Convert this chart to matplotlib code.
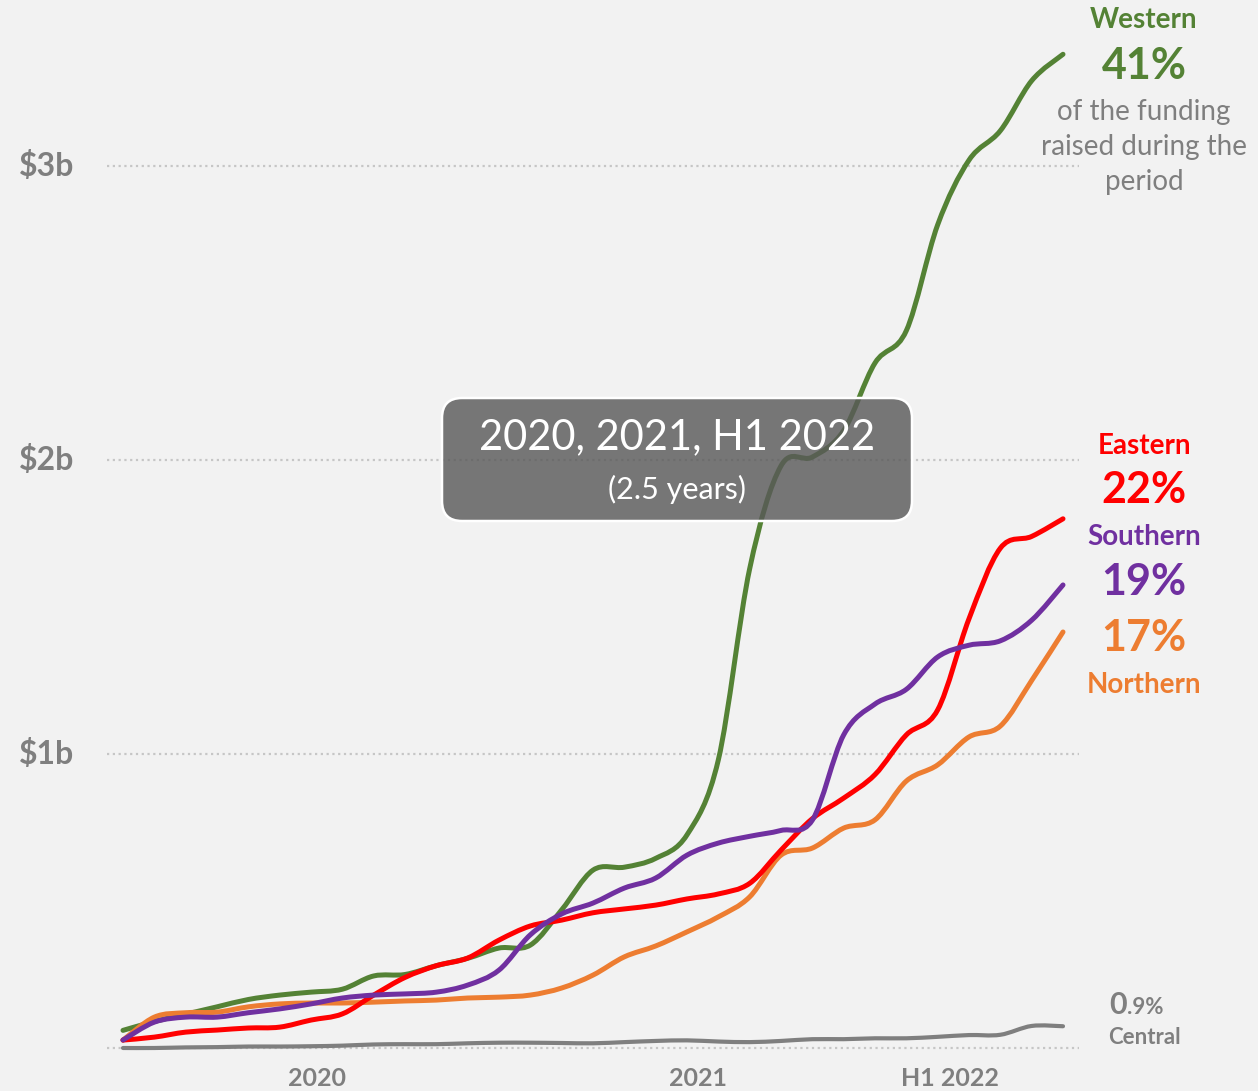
import numpy as np
import matplotlib
matplotlib.use("Agg")
import matplotlib.pyplot as plt
from matplotlib.path import Path
from matplotlib.patches import PathPatch, FancyBboxPatch
import matplotlib.transforms as mtransforms

# ---------------- data (cumulative funding, $ billions, monthly) ----------------
month_index = list(range(31))  # start of Jan 2020 .. end of Jun 2022

western = [0.06, 0.09, 0.115, 0.14, 0.165, 0.18, 0.19, 0.20, 0.245, 0.25, 0.28,
           0.305, 0.34, 0.35, 0.47, 0.605, 0.615, 0.645, 0.725, 0.98, 1.63,
           1.98, 2.01, 2.10, 2.33, 2.44, 2.80, 3.02, 3.12, 3.29, 3.38]
eastern = [0.027, 0.037, 0.054, 0.061, 0.068, 0.071, 0.095, 0.116, 0.18, 0.24,
           0.28, 0.306, 0.367, 0.415, 0.435, 0.46, 0.473, 0.486, 0.507, 0.524,
           0.56, 0.673, 0.78, 0.85, 0.93, 1.065, 1.15, 1.46, 1.70, 1.74, 1.80]
southern = [0.027, 0.088, 0.105, 0.105, 0.12, 0.133, 0.15, 0.17, 0.18, 0.184,
            0.19, 0.214, 0.265, 0.385, 0.456, 0.493, 0.544, 0.578, 0.656, 0.697,
            0.72, 0.74, 0.775, 1.065, 1.17, 1.22, 1.33, 1.37, 1.385, 1.455, 1.575]
northern = [0.027, 0.105, 0.12, 0.122, 0.14, 0.15, 0.153, 0.153, 0.156, 0.16,
            0.163, 0.17, 0.173, 0.18, 0.204, 0.248, 0.31, 0.347, 0.395, 0.446,
            0.514, 0.656, 0.68, 0.748, 0.776, 0.908, 0.963, 1.058, 1.095, 1.25, 1.415]
central = [0.0, 0.0, 0.002, 0.003, 0.005, 0.005, 0.006, 0.008, 0.012, 0.013,
           0.013, 0.016, 0.018, 0.018, 0.017, 0.016, 0.02, 0.024, 0.026, 0.022,
           0.02, 0.024, 0.03, 0.03, 0.033, 0.033, 0.038, 0.044, 0.045, 0.075, 0.074]

y_ticks = [1, 2, 3]
y_tick_labels = ["$1b", "$2b", "$3b"]
x_label_pos = [6.2, 18.35, 26.4]
x_labels = ["2020", "2021", "H1 2022"]

GREEN = "#548235"
RED = "#ff0000"
PURPLE = "#7030a0"
ORANGE = "#ed7d31"
GRAY = "#7f7f7f"
BG = "#f2f2f2"

plt.rcParams["font.family"] = ["Lato", "DejaVu Sans"]

fig = plt.figure(figsize=(12.58, 10.91), dpi=100)
fig.patch.set_facecolor(BG)

W, H = 1258, 1091
x_per_month = 940 / 30.0
left_px = 123 - 0.5 * x_per_month
right_px = 123 + 30.5 * x_per_month
ax = fig.add_axes([left_px / W, 0, (right_px - left_px) / W, 1])
ax.set_facecolor(BG)
ax.set_xlim(-0.5, 30.5)
y_per_b = 294.0
ax.set_ylim((1048 - 1091) / y_per_b, 1048 / y_per_b)
ax.axis("off")

# gridlines (dotted)
for gy in [0] + y_ticks:
    ax.axhline(gy, color="#c6c6c6", lw=1.6, ls=(0, (1, 1.6)), zorder=1)


def smooth_path(xs, ys):
    P = np.column_stack([xs, ys]).astype(float)
    n = len(P)
    verts = [tuple(P[0])]
    codes = [Path.MOVETO]
    for i in range(n - 1):
        p0 = P[i - 1] if i > 0 else P[i]
        p1 = P[i]
        p2 = P[i + 1]
        p3 = P[i + 2] if i + 2 < n else P[i + 1]
        c1 = p1 + (p2 - p0) / 6.0
        c2 = p2 - (p3 - p1) / 6.0
        verts += [tuple(c1), tuple(c2), tuple(p2)]
        codes += [Path.CURVE4] * 3
    return Path(verts, codes)


series = [(central, GRAY, 3.0), (western, GREEN, 3.6), (northern, ORANGE, 3.6),
          (eastern, RED, 3.6), (southern, PURPLE, 3.6)]
for z, (vals, col, lw) in enumerate(series):
    patch = PathPatch(smooth_path(month_index, vals), fill=False, edgecolor=col,
                      lw=lw, capstyle="round", joinstyle="round", zorder=3 + z)
    ax.add_patch(patch)

# y labels
blend = mtransforms.blended_transform_factory(fig.transFigure, ax.transData)
for v, lab in zip(y_ticks, y_tick_labels):
    ax.text(74 / W, v, lab, transform=blend, ha="right", va="center",
            fontsize=23, fontweight="bold", color=GRAY)

# x labels
for xp, lab in zip(x_label_pos, x_labels):
    ax.text(xp, (1048 - 1078) / y_per_b, lab, ha="center", va="center",
            fontsize=18, fontweight="bold", color=GRAY, clip_on=False)

# central box
box = FancyBboxPatch((4.42, (H - 521) / 100), 4.70, 1.23,
                     boxstyle="round,pad=0,rounding_size=0.2",
                     transform=fig.dpi_scale_trans, facecolor="#595959",
                     alpha=0.81, edgecolor="none", zorder=20)
fig.add_artist(box)
box_edge = FancyBboxPatch((4.42, (H - 521) / 100), 4.70, 1.23,
                          boxstyle="round,pad=0,rounding_size=0.2",
                          transform=fig.dpi_scale_trans, facecolor="none",
                          edgecolor="white", lw=1.8, zorder=21)
fig.add_artist(box_edge)
fig.text(677 / W, 1 - 437 / H, "2020, 2021, H1 2022", ha="center", va="center",
         fontsize=30, color="white", zorder=22)
fig.text(677 / W, 1 - 489 / H, "(2.5 years)", ha="center", va="center",
         fontsize=22, color="white", zorder=22)

# right-side labels
cx = 1144 / W


def ftxt(y_px, s, size, color, weight="bold"):
    fig.text(cx, 1 - y_px / H, s, ha="center", va="center", fontsize=size,
             fontweight=weight, color=color)


ftxt(20, "Western", 20, GREEN)
ftxt(66, "41%", 31, GREEN)
ftxt(112, "of the funding", 20, GRAY, "normal")
ftxt(147, "raised during the", 20, GRAY, "normal")
ftxt(182, "period", 20, GRAY, "normal")
ftxt(446, "Eastern", 20, RED)
ftxt(490, "22%", 31, RED)
ftxt(537, "Southern", 20, PURPLE)
ftxt(582, "19%", 31, PURPLE)
ftxt(638, "17%", 31, ORANGE)
ftxt(685, "Northern", 20, ORANGE)
fig.text(1127 / W, 1 - 1014 / H, "0", ha="right", va="baseline", fontsize=22,
         fontweight="bold", color=GRAY)
fig.text(1127 / W, 1 - 1014 / H, ".9%", ha="left", va="baseline", fontsize=16,
         fontweight="bold", color=GRAY)
ftxt(1037, "Central", 16, GRAY)

fig.savefig("out.png", dpi=100, facecolor=BG)
